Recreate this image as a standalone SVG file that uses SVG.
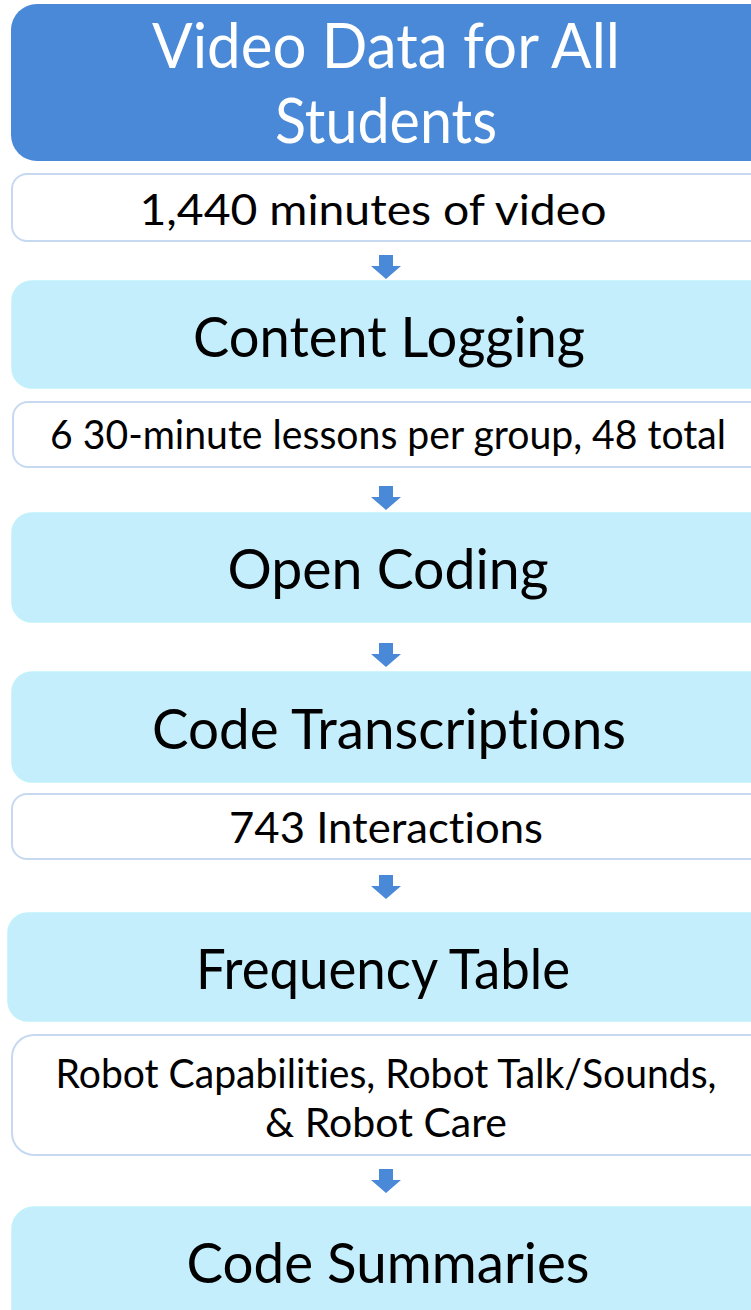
<svg xmlns="http://www.w3.org/2000/svg" xmlns:xlink="http://www.w3.org/1999/xlink" width="751" height="1310" viewBox="0 0 751 1310">
  <style>
    .title { fill: #4a89d7; }
    .step { fill: #c5eefc; stroke: #c0f1fb; stroke-width: 1.5; }
    .note { fill: #ffffff; stroke: #c6d9f1; stroke-width: 2; }
    text { font-family: "Lato", "Liberation Sans", sans-serif; text-anchor: middle; font-variant-ligatures: none; font-feature-settings: "liga" 0, "clig" 0; }
    .t-title { fill: #ffffff; font-size: 62px; }
    .t-step { fill: #000000; font-size: 56px; }
    .t-note { fill: #000000; font-size: 43px; }
    .t-small { fill: #000000; font-size: 40px; }
    .arrow { fill: #4a89d7; }
  </style>
  <defs>
    <path id="down" d="M-7,0 H7 V11 H15 L0,24 L-15,11 H-7 Z"/>
  </defs>

  <rect width="751" height="1310" fill="#ffffff"/>

  <g id="connectors">
    <use xlink:href="#down" class="arrow" x="386" y="255"/>
    <use xlink:href="#down" class="arrow" x="386" y="486"/>
    <use xlink:href="#down" class="arrow" x="386" y="643"/>
    <use xlink:href="#down" class="arrow" x="386" y="875"/>
    <use xlink:href="#down" class="arrow" x="386" y="1169"/>
  </g>

  <g id="video-data">
    <rect class="title" x="11" y="4" width="780" height="157" rx="26"/>
    <text class="t-title" x="386" y="68" textLength="468" lengthAdjust="spacingAndGlyphs">Video Data for All</text>
    <text class="t-title" x="386" y="143" textLength="222" lengthAdjust="spacingAndGlyphs">Students</text>
  </g>

  <g id="minutes">
    <rect class="note" x="12" y="174" width="780" height="67" rx="15"/>
    <text class="t-note" x="373" y="225" textLength="467" lengthAdjust="spacingAndGlyphs">1,440 minutes of video</text>
  </g>

  <g id="content-logging">
    <rect class="step" x="12" y="281" width="780" height="107" rx="20"/>
    <text class="t-step" x="389" y="357" textLength="392" lengthAdjust="spacingAndGlyphs">Content Logging</text>
  </g>

  <g id="lessons">
    <rect class="note" x="13" y="402" width="780" height="65" rx="15"/>
    <text class="t-small" x="388" y="449" textLength="676" lengthAdjust="spacingAndGlyphs">6 30-minute lessons per group, 48 total</text>
  </g>

  <g id="open-coding">
    <rect class="step" x="12" y="513" width="780" height="109" rx="20"/>
    <text class="t-step" x="388" y="589" textLength="321" lengthAdjust="spacingAndGlyphs">Open Coding</text>
  </g>

  <g id="code-transcriptions">
    <rect class="step" x="12" y="672" width="780" height="110" rx="20"/>
    <text class="t-step" x="389" y="749" textLength="474" lengthAdjust="spacingAndGlyphs">Code Transcriptions</text>
  </g>

  <g id="interactions">
    <rect class="note" x="12" y="794" width="780" height="65" rx="15"/>
    <text class="t-note" x="386" y="843" textLength="314" lengthAdjust="spacingAndGlyphs">743 Interactions</text>
  </g>

  <g id="frequency-table">
    <rect class="step" x="8" y="913" width="784" height="108" rx="20"/>
    <text class="t-step" x="383" y="989" textLength="374" lengthAdjust="spacingAndGlyphs">Frequency Table</text>
  </g>

  <g id="categories">
    <rect class="note" x="12" y="1035" width="780" height="120" rx="22"/>
    <text class="t-small" x="386" y="1088" textLength="661" lengthAdjust="spacingAndGlyphs">Robot Capabilities, Robot Talk/Sounds,</text>
    <text class="t-small" x="386" y="1137" textLength="242" lengthAdjust="spacingAndGlyphs">&amp; Robot Care</text>
  </g>

  <g id="code-summaries">
    <rect class="step" x="12" y="1207" width="780" height="130" rx="22"/>
    <text class="t-step" x="388" y="1283" textLength="403" lengthAdjust="spacingAndGlyphs">Code Summaries</text>
  </g>
</svg>
